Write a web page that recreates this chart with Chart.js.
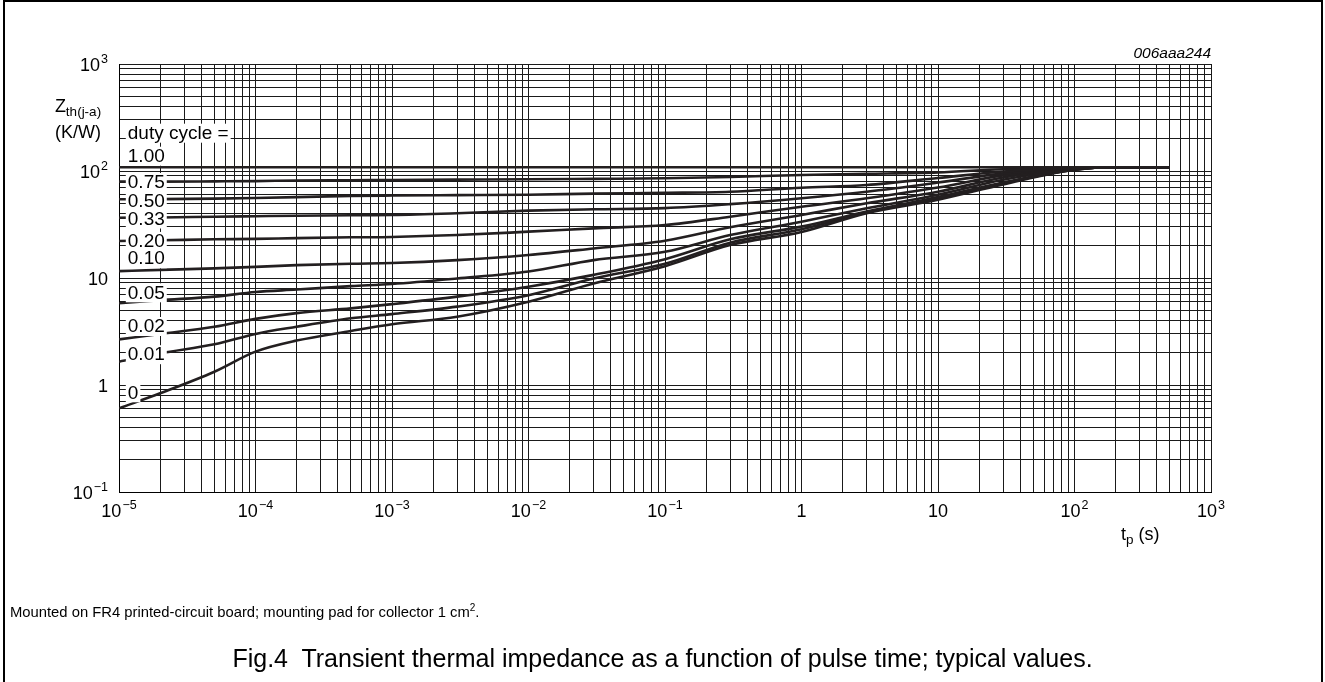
<!DOCTYPE html>
<html>
<head>
<meta charset="utf-8">
<script src="https://cdn.jsdelivr.net/npm/chart.js@4.4.0/dist/chart.umd.min.js"></script>
<style>
    html, body { margin: 0; padding: 0; background: #fff; }
    body { width: 1325px; height: 682px; position: relative; overflow: hidden;
           font-family: "Liberation Sans", Arial, Helvetica, sans-serif; color: #000; }
    #frame { position: absolute; left: 3px; top: 0; width: 1316px; height: 700px;
             border: 2px solid #000; border-bottom: none; }
    #wrap { position: absolute; left: 0; top: 0; width: 1325px; height: 682px; }
    .note { position: absolute; left: 10px; top: 605px; font-size: 14.8px; line-height: 15px; white-space: nowrap; }
    .note sup { font-size: 10px; vertical-align: 6px; line-height: 0; }
    .fig { position: absolute; left: 0; width: 1325px; top: 646px; text-align: center;
           font-size: 25px; line-height: 25px; white-space: pre; }
</style>
</head>
<body>
<div id="frame"></div>
<div id="wrap"><canvas id="chart"></canvas></div>
<div class="note">Mounted on FR4 printed-circuit board; mounting pad for collector 1 cm<sup>2</sup>.</div>
<div class="fig">Fig.4  Transient thermal impedance as a function of pulse time; typical values.</div>

<script>
// pulse time tp (s)
const tp = [1e-5, 2e-5, 5e-5, 1e-4, 2e-4, 5e-4, 1e-3, 3e-3, 1e-2, 3e-2, 0.1, 0.3, 1, 3, 10, 30, 100, 200, 500];

// Zth(j-a) in K/W for each duty cycle
const z100 = [108.5, 108.5, 108.5, 108.5, 108.5, 108.5, 108.5, 108.5, 108.5, 108.5, 108.5, 108.5, 108.5, 108.5, 108.5, 108.5, 108.5, 108.5, 108.5];
const z075 = [79.5, 79.5, 80, 80.5, 81.5, 82, 82.4, 83, 83.6, 84.5, 85.5, 88, 91.8, 94, 97, 104, 107.5, 108.5, 108.5];
const z050 = [54.5, 54.6, 55.2, 56, 57, 58.5, 59, 59.5, 60, 61.5, 62.5, 64, 69.8, 74, 86, 99, 106.5, 108.5, 108.5];
const z033 = [36.6, 36.8, 37.4, 37.8, 38.2, 38.6, 38.8, 40.3, 42.6, 43.9, 45, 49, 55.6, 64, 78, 95, 106, 108.5, 108.5];
const z020 = [22.2, 22.5, 23, 23.2, 23.6, 24, 24.2, 25.2, 27.1, 29.1, 31.3, 37.4, 46.4, 55.6, 70, 91, 105.5, 108.5, 108.5];
const z010 = [11.6, 11.9, 12.3, 12.7, 13.2, 13.6, 13.8, 14.7, 16.4, 18.9, 22.3, 29.8, 38.8, 49.9, 64, 87, 105, 108.5, 108.5];
const z005 = [5.8, 6.2, 6.7, 7.4, 7.8, 8.4, 8.8, 9.9, 11.5, 14.7, 17.6, 25.2, 33.6, 44.8, 60, 83, 104, 108.5, 108.5];
const z002 = [2.67, 3.0, 3.5, 4.15, 4.7, 5.2, 5.7, 6.7, 8.3, 10.7, 15, 23, 30.2, 41.8, 57, 78, 103, 108.5, 108.5];
const z001 = [1.65, 1.98, 2.4, 3.0, 3.5, 4.2, 4.6, 5.4, 6.9, 9.9, 13.6, 21.4, 28.5, 41, 56, 77, 103, 108.5, 108.5];
const z000 = [0.605, 0.836, 1.33, 2.05, 2.6, 3.2, 3.7, 4.35, 6.0, 8.9, 12.9, 20.3, 26.9, 40.3, 54, 75, 103, 108.5, 108.5];

const seriesNames = ['1.00', '0.75', '0.50', '0.33', '0.20', '0.10', '0.05', '0.02', '0.01', '0'];
const seriesValues = [z100, z075, z050, z033, z020, z010, z005, z002, z001, z000];

// decade labels on the axes
const xDecades = [-5, -4, -3, -2, -1, 0, 1, 2, 3];
const yDecades = [-1, 0, 1, 2, 3];

// in-plot labels: text and the Zth value they sit at
const labelTexts = ['duty cycle =', '1.00', '0.75', '0.50', '0.33', '0.20', '0.10', '0.05', '0.02', '0.01', '0'];
const labelZ = [228, 139, 79, 53, 36, 22.2, 15.3, 7.35, 3.56, 1.94, 0.855];
const labelT = 1.16e-5;

const FONT = '"Liberation Sans", Arial, Helvetica, sans-serif';

// grid at 1..9 x 10^n
function logGrid(e0, e1) {
    const out = [];
    for (let e = e0; e < e1; e++) {
        for (let m = 1; m <= 9; m++) out.push(parseFloat((m * Math.pow(10, e)).toPrecision(3)));
    }
    out.push(Math.pow(10, e1));
    return out;
}

// "10" with a raised exponent, or plain 1 / 10
function drawPow(ctx, e, px, py, align) {
    let base = '10', sup = '';
    if (e === 0) base = '1';
    else if (e !== 1) sup = (e < 0 ? '\u2212' : '') + Math.abs(e);
    ctx.font = '18px ' + FONT;
    const wb = ctx.measureText(base).width;
    ctx.font = '12.5px ' + FONT;
    const ws = sup ? ctx.measureText(sup).width + 1 : 0;
    const w = wb + ws;
    const left = align === 'right' ? px - w : px - w / 2;
    ctx.textAlign = 'left';
    ctx.textBaseline = 'alphabetic';
    ctx.font = '18px ' + FONT;
    ctx.fillText(base, left, py + 7);
    if (sup) {
        ctx.font = '12.5px ' + FONT;
        ctx.fillText(sup, left + wb + 1, py - 1);
    }
}

const textPlugin = {
    id: 'textPlugin',
    afterDatasetsDraw(chart) {
        const { ctx, scales: { x, y } } = chart;
        ctx.save();
        ctx.font = '19px ' + FONT;
        ctx.textBaseline = 'middle';
        ctx.textAlign = 'left';
        labelTexts.forEach((txt, i) => {
            const px = x.getPixelForValue(labelT);
            const py = y.getPixelForValue(labelZ[i]);
            const w = ctx.measureText(txt).width;
            ctx.fillStyle = '#fff';
            ctx.fillRect(px - 2, py - 9, w + 4, 19);
            ctx.fillStyle = '#000';
            ctx.fillText(txt, px, py + 1);
        });
        ctx.restore();
    },
    afterDraw(chart) {
        const { ctx, chartArea, scales: { x, y } } = chart;
        ctx.save();
        ctx.fillStyle = '#000';
        yDecades.forEach(e => drawPow(ctx, e, chartArea.left - 11, y.getPixelForValue(Math.pow(10, e)), 'right'));
        xDecades.forEach(e => drawPow(ctx, e, x.getPixelForValue(Math.pow(10, e)), chartArea.bottom + 18, 'center'));

        // y axis title
        ctx.textBaseline = 'alphabetic';
        ctx.font = '18px ' + FONT;
        const wZ = ctx.measureText('Z').width;
        ctx.font = '13.5px ' + FONT;
        const wSub = ctx.measureText('th(j-a)').width;
        const zl = 78 - (wZ + wSub) / 2;
        ctx.font = '18px ' + FONT;
        ctx.textAlign = 'left';
        ctx.fillText('Z', zl, 112);
        ctx.font = '13.5px ' + FONT;
        ctx.fillText('th(j-a)', zl + wZ, 116);
        ctx.font = '18px ' + FONT;
        ctx.textAlign = 'center';
        ctx.fillText('(K/W)', 78, 138);

        // x axis title
        ctx.textAlign = 'left';
        ctx.font = '18px ' + FONT;
        const tx = 1121;
        ctx.fillText('t', tx, 540);
        const wt = ctx.measureText('t').width;
        ctx.font = '13.5px ' + FONT;
        ctx.fillText('p', tx + wt, 544);
        const wp = ctx.measureText('p').width;
        ctx.font = '18px ' + FONT;
        ctx.fillText(' (s)', tx + wt + wp, 540);

        // figure code
        ctx.font = 'italic 15.5px ' + FONT;
        ctx.textAlign = 'right';
        ctx.fillText('006aaa244', chartArea.right, 58);
        ctx.restore();
    }
};

const datasets = seriesNames.map((name, i) => ({
    label: name,
    data: tp.map((t, k) => ({ x: t, y: seriesValues[i][k] })),
    showLine: true,
    borderColor: '#231f20',
    borderWidth: 2.6,
    pointRadius: 0,
    cubicInterpolationMode: 'monotone',
    fill: false
}));

const gridOpts = { color: '#1a1a1a', lineWidth: 1, drawTicks: false };

new Chart(document.getElementById('chart'), {
    type: 'scatter',
    data: { datasets },
    options: {
        responsive: true,
        maintainAspectRatio: false,
        animation: false,
        layout: { padding: { left: 119, top: 64, right: 114, bottom: 190 } },
        plugins: { legend: { display: false }, tooltip: { enabled: false } },
        scales: {
            x: {
                type: 'logarithmic', min: 1e-5, max: 1e3,
                ticks: { display: false },
                grid: gridOpts,
                border: { color: '#000', width: 1 },
                afterBuildTicks: axis => { axis.ticks = logGrid(-5, 3).map(v => ({ value: v })); }
            },
            y: {
                type: 'logarithmic', min: 0.1, max: 1000,
                ticks: { display: false },
                grid: gridOpts,
                border: { color: '#000', width: 1 },
                afterBuildTicks: axis => { axis.ticks = logGrid(-1, 3).map(v => ({ value: v })); }
            }
        }
    },
    plugins: [textPlugin]
});
</script>
</body>
</html>
